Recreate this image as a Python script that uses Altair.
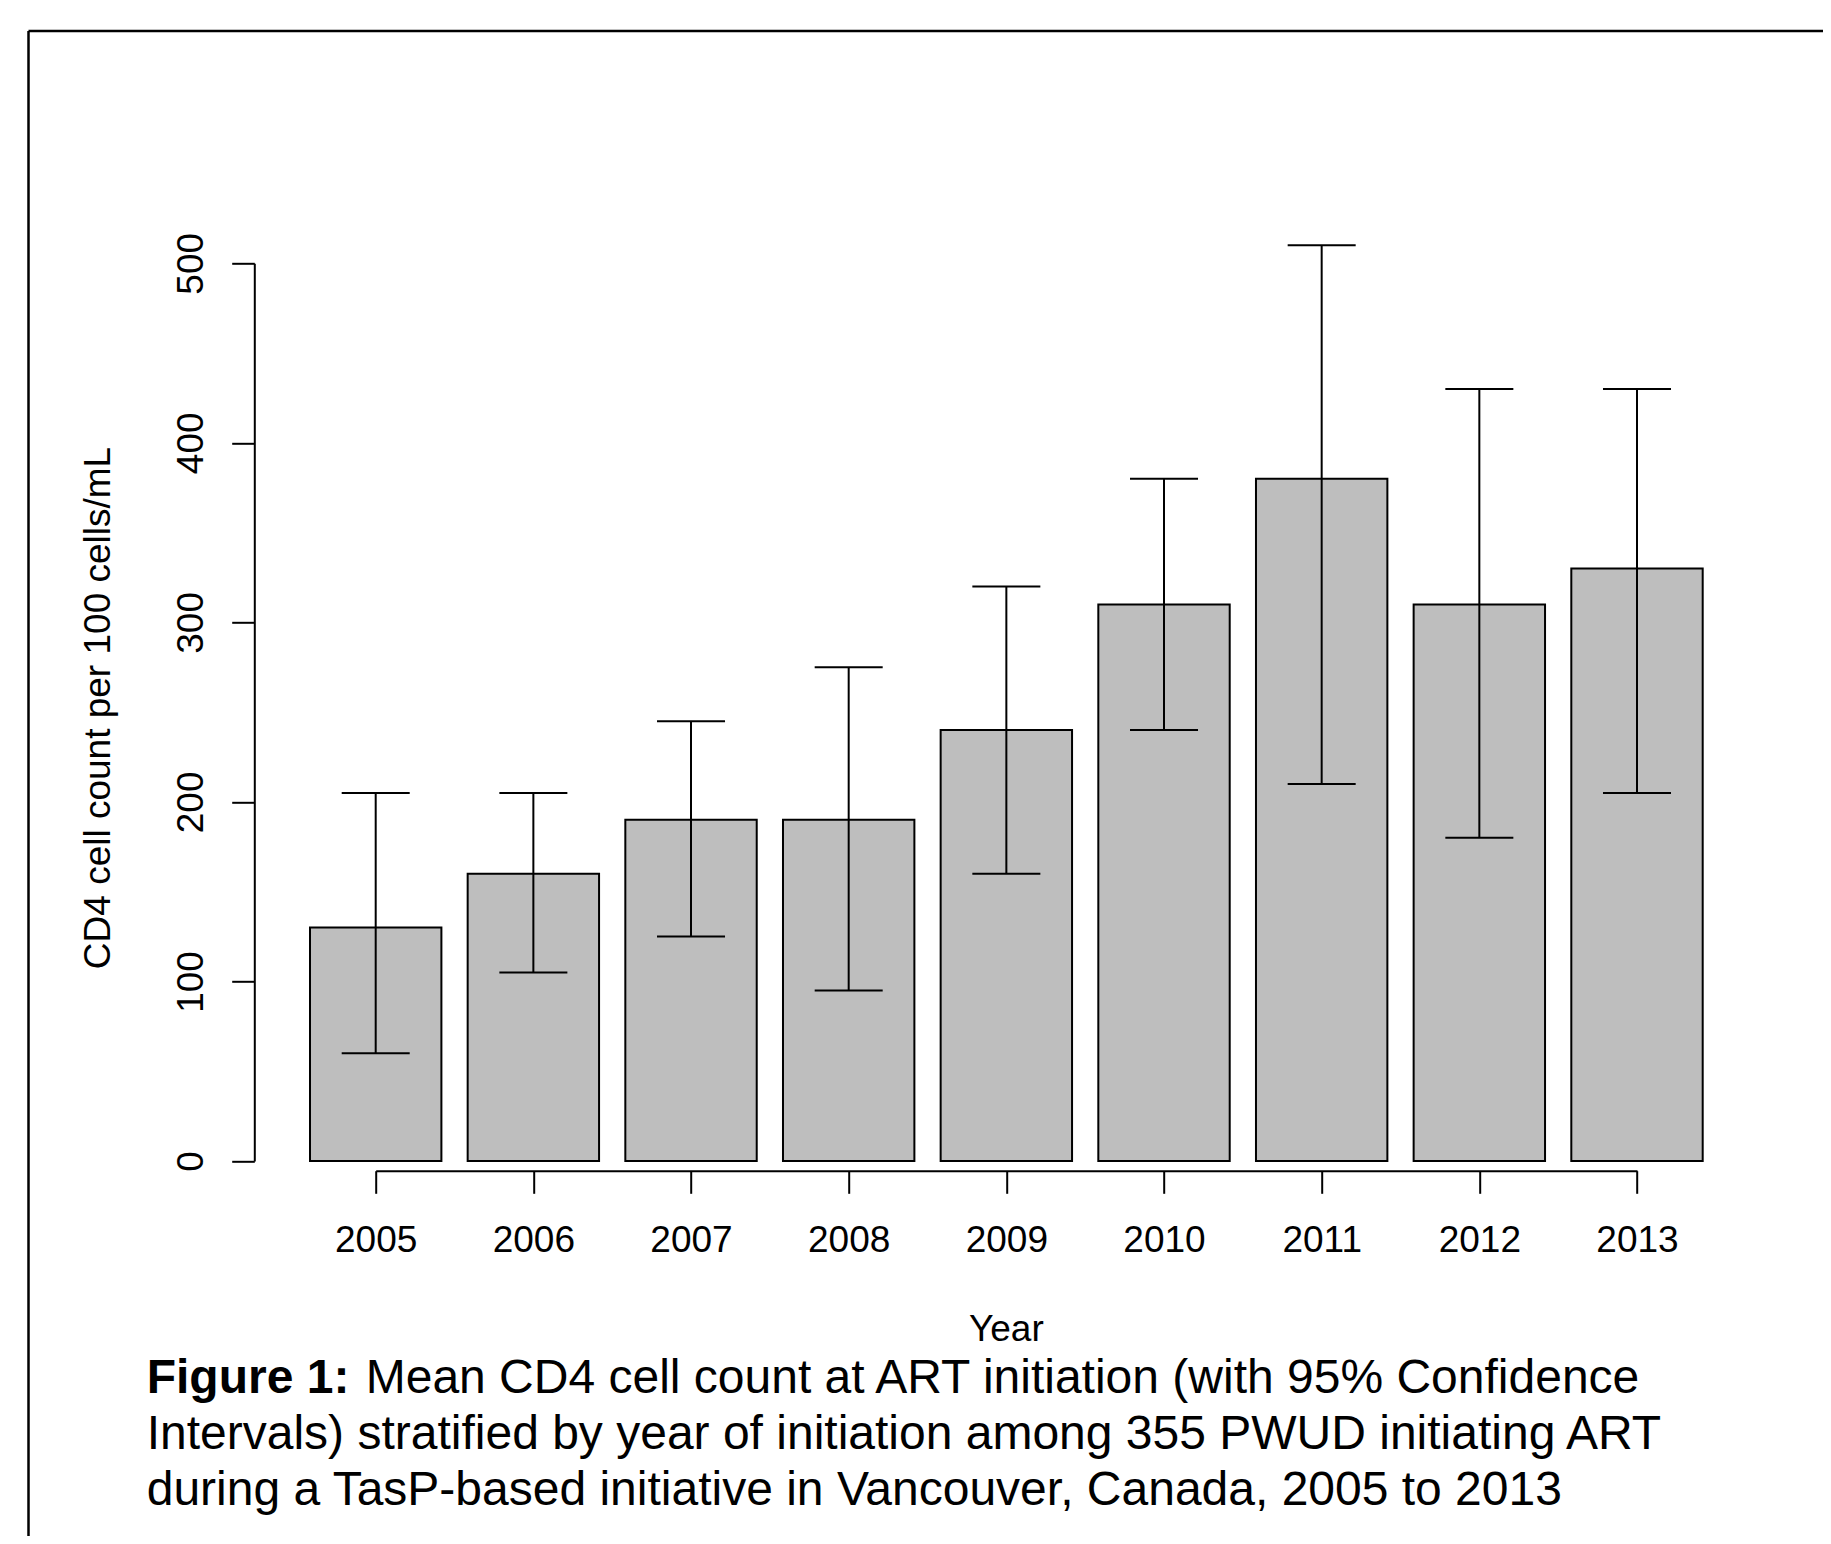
import altair as alt
import pandas as pd

# ---- data ----
years = [2005, 2006, 2007, 2008, 2009, 2010, 2011, 2012, 2013]
mean_cd4 = [130, 160, 190, 190, 240, 310, 380, 310, 330]
ci_low = [60, 105, 125, 95, 160, 240, 210, 180, 205]
ci_high = [205, 205, 245, 275, 320, 380, 510, 430, 430]
y_ticks = [0, 100, 200, 300, 400, 500]

y_title = "CD4 cell count per 100 cells/mL"
x_title = "Year"
cap_bold = "Figure 1:"
cap_line1 = "Mean CD4 cell count at ART initiation (with 95% Confidence"
cap_line2 = "Intervals) stratified by year of initiation among 355 PWUD initiating ART"
cap_line3 = "during a TasP-based initiative in Vancouver, Canada, 2005 to 2013"

# ---- layout / style ----
FONT = "Liberation Sans"
W, H = 1261.3, 897.7
PAD = {"left": 367.7, "top": 255.3, "right": 186, "bottom": 375}
BAR_HALF = 0.4167
CAP_HALF = 0.2157
FS = 37

df = pd.DataFrame({"year": years, "mean": mean_cd4, "lo": ci_low, "hi": ci_high})

xs = alt.Scale(domain=[2005, 2013], nice=False, zero=False)
ys = alt.Scale(domain=[0, 500], nice=False, zero=False)

x_axis = alt.Axis(values=years, format="d", offset=9.7, tickSize=22.6, tickWidth=2,
                  tickColor="black", domainColor="black", domainWidth=2,
                  labelFont=FONT, labelFontSize=FS, labelColor="black",
                  labelBaseline="alphabetic", labelPadding=58.2, labelAngle=0,
                  labelAlign="center", labelFlush=False,
                  labelOverlap=False, grid=False, title=None)
y_axis = alt.Axis(values=y_ticks, offset=121.4, tickSize=22.6, tickWidth=2,
                  tickColor="black", domainColor="black", domainWidth=2,
                  labelFont=FONT, labelFontSize=FS, labelColor="black",
                  labelAngle=270, labelAlign="center", labelBaseline="alphabetic",
                  labelPadding=29.7, labelFlush=False, labelOverlap=False,
                  grid=False, title=None)

base = alt.Chart(df).transform_calculate(
    bl=f"datum.year - {BAR_HALF}", br=f"datum.year + {BAR_HALF}",
    cl=f"datum.year - {CAP_HALF}", cr=f"datum.year + {CAP_HALF}",
)

bars = base.mark_bar(fill="#bebebe", stroke="black", strokeWidth=2).encode(
    x=alt.X("bl:Q", scale=xs, axis=x_axis),
    x2="br:Q",
    y=alt.Y("mean:Q", scale=ys, axis=y_axis),
    y2=alt.datum(0),
)

whisk = base.mark_rule(color="black", strokeWidth=2).encode(
    x=alt.X("year:Q", scale=xs, axis=x_axis),
    y=alt.Y("lo:Q", scale=ys, axis=y_axis),
    y2="hi:Q",
)
cap_hi = base.mark_rule(color="black", strokeWidth=2).encode(
    x=alt.X("cl:Q", scale=xs, axis=x_axis), x2="cr:Q",
    y=alt.Y("hi:Q", scale=ys, axis=y_axis),
)
cap_lo = base.mark_rule(color="black", strokeWidth=2).encode(
    x=alt.X("cl:Q", scale=xs, axis=x_axis), x2="cr:Q",
    y=alt.Y("lo:Q", scale=ys, axis=y_axis),
)

one = pd.DataFrame({"k": [0]})


def txt(s, x, y, **kw):
    opts = dict(font=FONT, fontSize=FS, color="black", baseline="alphabetic")
    opts.update(kw)
    return alt.Chart(one).mark_text(text=s, **opts).encode(
        x=alt.value(x), y=alt.value(y))


ytitle = txt(y_title, -265.7, 444.7, angle=270, align="center")
xtitle = txt(x_title, W / 2, 1077.7, align="center")

CX = -229.0
CFS = 48
c0 = txt(cap_bold, CX, 1129.7, align="left", fontSize=CFS, fontWeight="bold")
c1 = txt(cap_line1, CX + 219, 1129.7, align="left", fontSize=CFS)
c2 = txt(cap_line2, CX, 1185.2, align="left", fontSize=CFS)
c3 = txt(cap_line3, CX, 1241.2, align="left", fontSize=CFS)

FX, FY = -347.2, -232.3
frame_top = alt.Chart(one).mark_rule(color="black", strokeWidth=2.5).encode(
    x=alt.value(FX), x2=alt.value(1460), y=alt.value(FY))
frame_left = alt.Chart(one).mark_rule(color="black", strokeWidth=2.5).encode(
    x=alt.value(FX), y=alt.value(FY), y2=alt.value(1280))

chart = alt.layer(
    bars, whisk, cap_hi, cap_lo, ytitle, xtitle, c0, c1, c2, c3, frame_top, frame_left
).properties(
    width=W, height=H, padding=PAD,
    autosize=alt.AutoSizeParams(type="none"),
    background="white",
).configure_view(stroke=None)

chart.save("out.html", embed_options={"renderer": "svg", "actions": False})
